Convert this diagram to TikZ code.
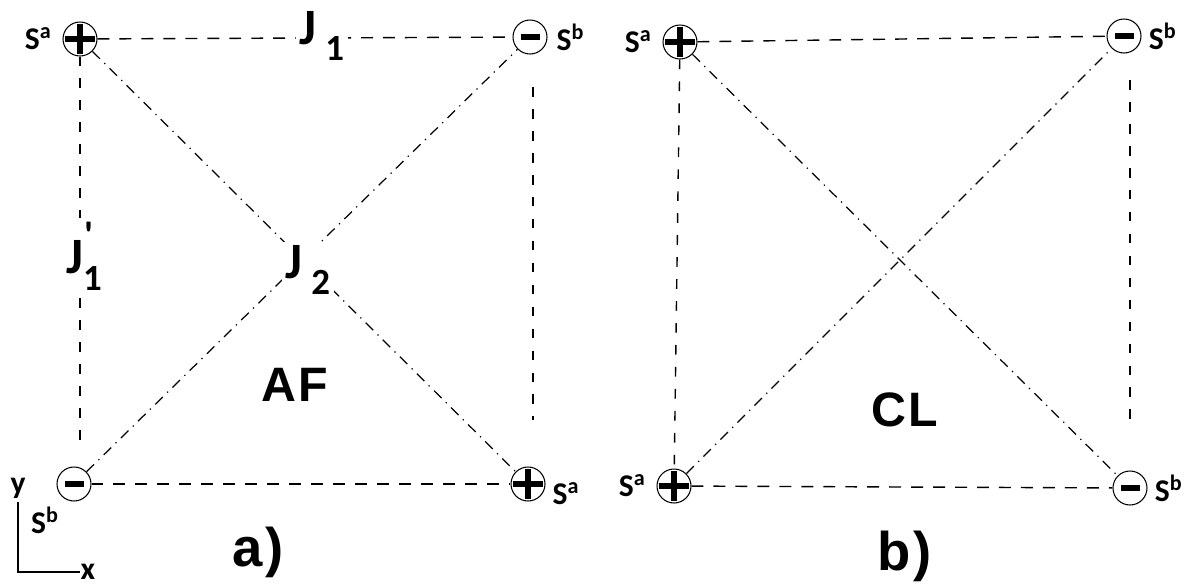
\documentclass[tikz,border=0pt]{standalone}
\usepackage{fontspec}
\setmainfont{Carlito}
\newfontfamily\phasefont{Liberation Sans}
\usetikzlibrary{positioning}

\newcommand{\labsize}{\fontsize{29}{30}\selectfont\bfseries}
\newcommand{\spinsize}{\fontsize{18}{20}\selectfont\bfseries}
\newcommand{\phasesize}{\phasefont\fontsize{27.5}{30}\selectfont\bfseries}
\newcommand{\jsub}[1]{J\,\raisebox{-0.32em}{\fontsize{21}{22}\selectfont #1}}

\begin{document}
\begin{tikzpicture}[
  x=0.02cm, y=-0.02cm,
  site/.style={
    circle, draw=black, line width=0.6pt,
    minimum size=0.68cm, inner sep=0pt
  },
  up/.style={
    site,
    path picture={
      \draw[line width=3.2pt]
        ([xshift=1pt]path picture bounding box.west) -- ([xshift=-1pt]path picture bounding box.east);
      \draw[line width=3.2pt]
        ([yshift=-1pt]path picture bounding box.north) -- ([yshift=1pt]path picture bounding box.south);
    }
  },
  down/.style={
    site,
    path picture={
      \fill ([xshift=-5pt,yshift=-1.8pt]path picture bounding box.center)
        rectangle ([xshift=5.5pt,yshift=1.8pt]path picture bounding box.center);
    }
  },
  bond/.style={line width=0.8pt, dash pattern=on 6.8pt off 5.7pt},
  side/.style={line width=0.8pt, dash pattern=on 5.5pt off 7pt},
  cross/.style={line width=0.7pt, dash pattern=on 6pt off 3.5pt on 0.7pt off 3.5pt},
  spin/.style={font=\spinsize, inner sep=0pt},
  coupling/.style={font=\labsize, inner sep=2pt, fill=white},
  phase/.style={font=\phasesize, inner sep=0pt}
]

\useasboundingbox (0,0) rectangle (1187,585);

% a) AF
\node[up]   (a1) at (80,39)   {};
\node[down] (b1) at (530,37)  {};
\node[down] (c1) at (74,484)  {};
\node[up]   (d1) at (528,484) {};
\coordinate (l1) at (80,443);
\coordinate (r1t) at (533,87);
\coordinate (r1b) at (533,420);

\draw[bond]  (a1) -- (b1);
\draw[bond]  (c1) -- (d1);
\draw[side]  (a1) -- (l1);
\draw[side]  (r1t) -- (r1b);
\draw[cross] (a1) -- (d1);
\draw[cross] (c1) -- (b1);

% b) CL
\node[up]   (a2) at (680,42)   {};
\node[down] (b2) at (1124,36)  {};
\node[up]   (c2) at (674,486)  {};
\node[down] (d2) at (1130,488) {};
\coordinate (r2t) at (1130,80);
\coordinate (r2b) at (1130,420);

\draw[bond]  (a2) -- (b2);
\draw[bond]  (c2) -- (d2);
\draw[side]  (a2) -- (c2);
\draw[side]  (r2t) -- (r2b);
\draw[cross] (a2) -- (d2);
\draw[cross] (c2) -- (b2);

% spin labels
\node[spin, left=6pt of a1]  (sa1) {S\textsuperscript{a}};
\node[spin, right=5pt of b1] (sb1) {S\textsuperscript{b}};
\node[spin] (sb3) at (45,520)  {S\textsuperscript{b}};
\node[spin] (sa4) at (566,494) {S\textsuperscript{a}};
\node[spin, left=6pt of a2]  (sa2) {S\textsuperscript{a}};
\node[spin, right=4pt of b2] (sb2) {S\textsuperscript{b}};
\node[spin, left=6pt of c2]  (sa5) {S\textsuperscript{a}};
\node[spin, right=4pt of d2] (sb4) {S\textsuperscript{b}};

% couplings
\node[coupling] (j1)  at (322,36)  {\jsub{1}};
\node[coupling] (j1p) at (84,256)
  {J\rlap{\raisebox{0.5em}{\kern1pt\fontsize{22}{22}\selectfont\textquotesingle}}\raisebox{-0.32em}{\fontsize{21}{22}\selectfont 1}};
\node[coupling] (j2)  at (308,270) {J\kern5pt\raisebox{-0.32em}{\fontsize{21}{22}\selectfont 2}};

\node[phase] (af) at (295,385) {A\kern1pt F};
\node[phase] (cl) at (905,410) {C\kern1pt L};
\node[phase, font=\phasefont\fontsize{31}{32}\selectfont\bfseries] (pa) at (258,552) {a\kern1.5pt)};
\node[phase, font=\phasefont\fontsize{31}{32}\selectfont\bfseries] (pb) at (905,556) {b\kern1.5pt)};

% axes
\node[spin] (ay) at (18,488) {y};
\node[spin] (ax) at (88,572) {x};
\draw[line width=0.7pt] (ay.south) ++(0,-2pt) |- (ax.west);
\end{tikzpicture}
\end{document}
